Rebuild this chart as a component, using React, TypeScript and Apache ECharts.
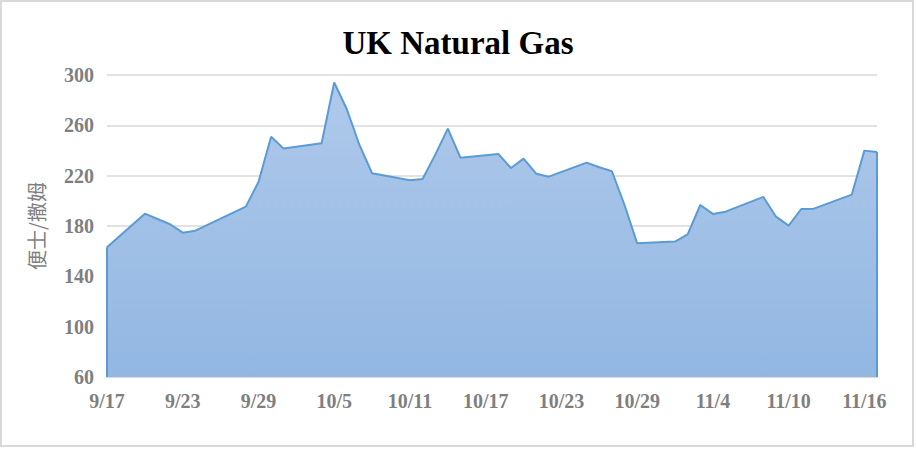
import React, { useEffect, useRef } from "react";
import * as echarts from "echarts";

const dates: string[] = [
  "9/17", "9/20", "9/21", "9/22", "9/23", "9/24", "9/28", "9/29", "9/30", "10/1",
  "10/4", "10/5", "10/6", "10/7", "10/8", "10/11", "10/12", "10/13", "10/14", "10/15",
  "10/18", "10/19", "10/20", "10/21", "10/22", "10/25", "10/26", "10/27", "10/28", "10/29",
  "11/1", "11/2", "11/3", "11/4", "11/5", "11/8", "11/9", "11/10", "11/11", "11/12",
  "11/15", "11/16", "11/17",
];
const prices: number[] = [
  163.1, 189.8, 185.6, 181.4, 174.7, 176.3, 195.4, 215, 251, 241.5,
  245.7, 294, 272.8, 244.4, 221.9, 216.3, 217.4, 236.5, 257.4, 234.3,
  237.3, 226.1, 233.5, 221.6, 219.2, 230.4, 226.7, 223.5, 196.7, 166.3,
  167.6, 173.4, 196.7, 189.6, 191.4, 203.1, 187.4, 180.3, 193.5, 193.8,
  204.9, 239.9, 238.9,
];
const YEAR = 2021;
const startDate = "9/17";
const endDate = "11/17";
const yMin = 60;
const yMax = 300;
const yStep = 40;
const xStep = 6;

const DAY = 86400000;
const toUTC = (s: string) => {
  const [m, d] = s.split("/").map(Number);
  return Date.UTC(YEAR, m - 1, d);
};
const origin = toUTC(startDate);
const dayOffset = (s: string) => Math.round((toUTC(s) - origin) / DAY);
const fmtDay = (v: number) => {
  const dt = new Date(origin + v * DAY);
  return `${dt.getUTCMonth() + 1}/${dt.getUTCDate()}`;
};

const GRAY = "#7f7f7f";
const GRID = "#d9d9d9";
const LINE = "#5b9bd5";

export default function App() {
  const ref = useRef<HTMLDivElement>(null);
  useEffect(() => {
    document.body.style.margin = "0";
    if (!ref.current) return;
    const chart = echarts.init(ref.current, undefined, { renderer: "svg" });
    const seriesData = dates.map((d, i) => [dayOffset(d), prices[i]]);
    const first = seriesData[0];
    const last = seriesData[seriesData.length - 1];
    chart.setOption({
      animation: false,
      backgroundColor: "#ffffff",
      title: {
        text: "UK Natural Gas",
        left: "center",
        top: 21,
        textStyle: {
          fontFamily: "Liberation Serif",
          fontWeight: "bold",
          fontSize: 33,
          color: "#000000",
        },
      },
      graphic: [
        {
          type: "rect",
          shape: { x: 1, y: 1, width: 912, height: 445 },
          style: { fill: "none", stroke: GRID, lineWidth: 2 },
          silent: true,
        },
      ],
      grid: { left: 107, right: 39, top: 75, bottom: 72, containLabel: false },
      xAxis: {
        type: "value",
        min: 0,
        max: dayOffset(endDate),
        interval: xStep,
        axisLine: { show: true, lineStyle: { color: GRID, width: 2 } },
        axisTick: { show: false },
        splitLine: { show: false },
        axisLabel: {
          showMaxLabel: false,
          formatter: (v: number) => fmtDay(v),
          color: GRAY,
          fontFamily: "Liberation Serif",
          fontWeight: "bold",
          fontSize: 20,
          margin: 14,
        },
      },
      yAxis: {
        type: "value",
        min: yMin,
        max: yMax,
        interval: yStep,
        name: "便士/撒姆",
        nameLocation: "middle",
        nameRotate: 90,
        nameGap: 61,
        nameTextStyle: {
          color: GRAY,
          fontFamily: "Noto Sans CJK SC",
          fontSize: 20,
        },
        axisLine: { show: false },
        axisTick: { show: false },
        splitLine: { show: true, lineStyle: { color: GRID, width: 1.5 } },
        axisLabel: {
          color: GRAY,
          fontFamily: "Liberation Serif",
          fontWeight: "bold",
          fontSize: 20,
          margin: 13,
        },
      },
      series: [
        {
          type: "line",
          data: seriesData,
          symbol: "none",
          lineStyle: { color: LINE, width: 2 },
          areaStyle: {
            origin: "start",
            color: new echarts.graphic.LinearGradient(0, 0, 0, 1, [
              { offset: 0, color: "#afc9ea" },
              { offset: 1, color: "#92b7e3" },
            ]),
            opacity: 1,
          },
          markLine: {
            silent: true,
            symbol: "none",
            label: { show: false },
            lineStyle: { color: LINE, width: 2, type: "solid" },
            data: [
              [{ coord: [first[0], yMin] }, { coord: [first[0], first[1]] }],
              [{ coord: [last[0], yMin] }, { coord: [last[0], last[1]] }],
            ],
          },
        },
      ],
    });
    return () => chart.dispose();
  }, []);
  return <div ref={ref} style={{ width: 916, height: 449 }} />;
}
